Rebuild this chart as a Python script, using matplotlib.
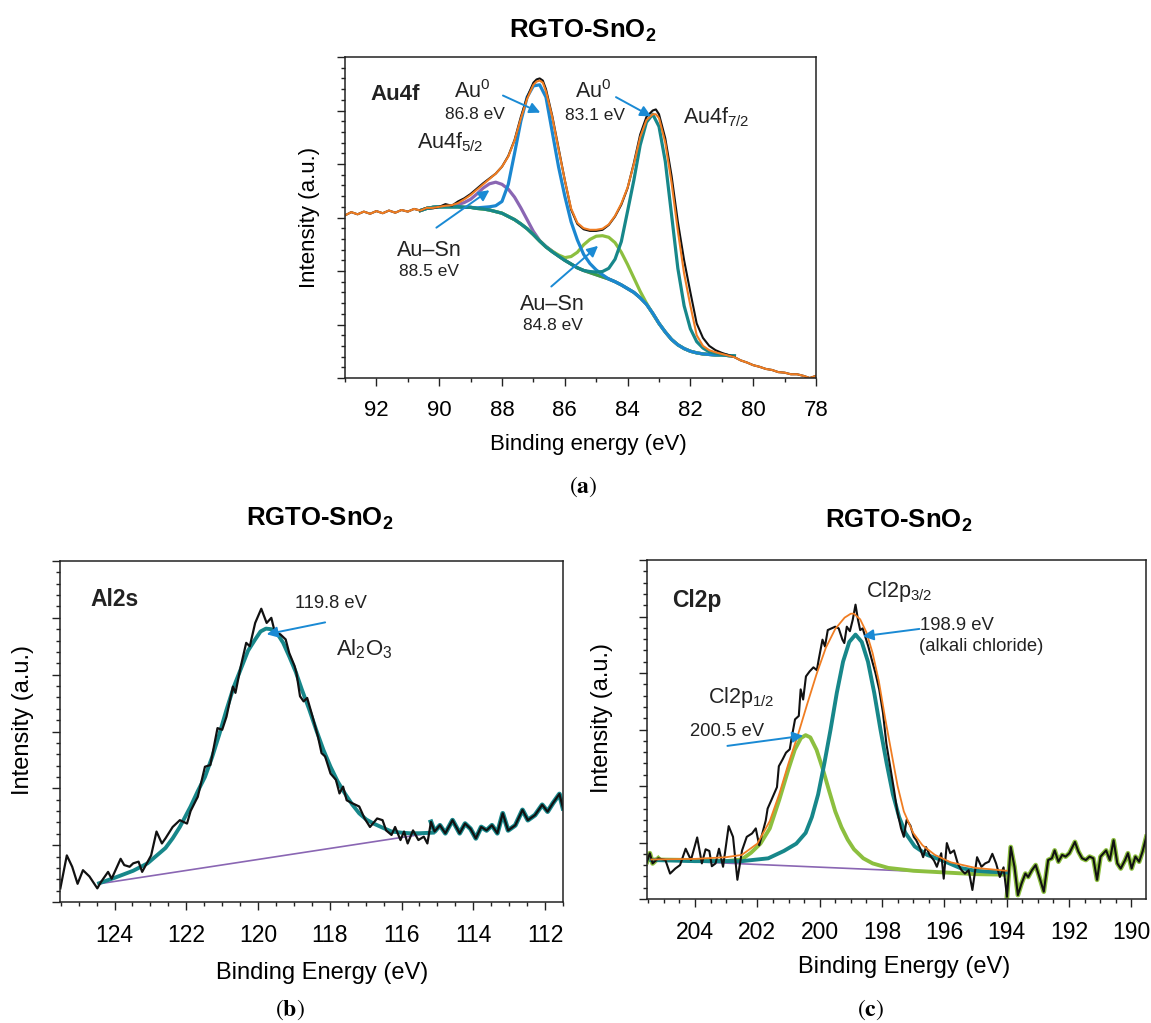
import matplotlib
matplotlib.use("Agg")
import matplotlib.pyplot as plt
from matplotlib.ticker import MultipleLocator
import numpy as np

plt.rcParams['font.family'] = ['Liberation Sans', 'DejaVu Sans']
plt.rcParams['mathtext.fontset'] = 'custom'
plt.rcParams['mathtext.rm'] = 'Liberation Sans'
plt.rcParams['mathtext.it'] = 'Liberation Sans:italic'
plt.rcParams['mathtext.bf'] = 'Liberation Sans:bold'

# ---------------- Panel (a) : Au4f ----------------
a_x = [93.0, 92.8, 92.6, 92.4, 92.2, 92.0, 91.8, 91.6, 91.4, 91.2, 91.0, 90.8, 90.6, 90.4,
       90.2, 90.0, 89.8, 89.6, 89.4, 89.2, 89.0, 88.8, 88.6, 88.4, 88.2, 88.0, 87.8, 87.6,
       87.4, 87.2, 87.0, 86.9, 86.8, 86.7, 86.6, 86.4, 86.2, 86.0, 85.8, 85.6, 85.4, 85.2,
       85.0, 84.8, 84.6, 84.4, 84.2, 84.0, 83.8, 83.6, 83.4, 83.2, 83.1, 83.0, 82.8, 82.6,
       82.4, 82.2, 82.0, 81.8, 81.6, 81.4, 81.2, 81.0, 80.8, 80.6, 80.4, 80.2, 80.0, 79.8,
       79.6, 79.4, 79.2, 79.0, 78.8, 78.6, 78.4, 78.2, 78.0]
a_raw = [3.04, 3.10, 3.06, 3.11, 3.07, 3.12, 3.08, 3.13, 3.09, 3.14, 3.11, 3.16, 3.13, 3.18,
         3.17, 3.20, 3.25, 3.22, 3.30, 3.36, 3.44, 3.54, 3.64, 3.73, 3.82, 3.95, 4.15, 4.45,
         4.88, 5.25, 5.52, 5.58, 5.60, 5.56, 5.40, 4.90, 4.30, 3.70, 3.15, 2.88, 2.78, 2.75,
         2.75, 2.77, 2.86, 3.02, 3.24, 3.55, 4.02, 4.55, 4.88, 5.00, 5.02, 4.93, 4.48, 3.78,
         2.92, 2.20, 1.60, 1.02, 0.75, 0.60, 0.52, 0.47, 0.43, 0.39, 0.33, 0.29, 0.24, 0.21,
         0.17, 0.15, 0.11, 0.10, 0.07, 0.07, 0.04, 0.00, 0.04]
a_env = [3.04, 3.10, 3.06, 3.11, 3.07, 3.12, 3.08, 3.13, 3.09, 3.14, 3.11, 3.16, 3.13, 3.18,
         3.18, 3.20, 3.22, 3.23, 3.27, 3.34, 3.42, 3.52, 3.62, 3.72, 3.82, 3.95, 4.14, 4.44,
         4.85, 5.22, 5.48, 5.54, 5.56, 5.52, 5.36, 4.88, 4.28, 3.70, 3.17, 2.90, 2.80, 2.77,
         2.77, 2.79, 2.87, 3.03, 3.26, 3.56, 4.00, 4.50, 4.82, 4.93, 4.93, 4.86, 4.40, 3.65,
         2.75, 1.95, 1.35, 0.80, 0.60, 0.52, 0.48, 0.45, 0.42, 0.39, 0.33, 0.29, 0.24, 0.21,
         0.17, 0.15, 0.11, 0.10, 0.07, 0.07, 0.04, 0.00, 0.04]

a_cx = [90.6, 90.4, 90.2, 90.0, 89.8, 89.6, 89.4, 89.2, 89.0, 88.8, 88.6, 88.4, 88.2, 88.0,
        87.8, 87.6, 87.4, 87.2, 87.0, 86.8, 86.6, 86.4, 86.2, 86.0, 85.8, 85.6, 85.4, 85.2,
        85.0, 84.8, 84.6, 84.4, 84.2, 84.0, 83.8, 83.6, 83.4, 83.2, 83.0, 82.8, 82.6, 82.4,
        82.2, 82.0, 81.8, 81.6, 81.4, 81.2, 81.0, 80.8, 80.6]
a_bg = [3.13, 3.17, 3.19, 3.20, 3.20, 3.20, 3.20, 3.19, 3.19, 3.17, 3.16, 3.14, 3.11, 3.08,
        3.02, 2.96, 2.88, 2.79, 2.68, 2.56, 2.45, 2.36, 2.28, 2.20, 2.13, 2.06, 2.01, 1.97,
        1.93, 1.89, 1.85, 1.80, 1.74, 1.67, 1.60, 1.50, 1.38, 1.21, 1.02, 0.86, 0.72, 0.62,
        0.55, 0.50, 0.47, 0.45, 0.44, 0.43, 0.43, 0.42, 0.41]
a_ausn1 = [3.13, 3.17, 3.19, 3.20, 3.21, 3.22, 3.24, 3.28, 3.34, 3.44, 3.55, 3.63, 3.66, 3.62,
           3.53, 3.38, 3.18, 2.96, 2.74, 2.57, 2.46, 2.37, 2.28, 2.20, 2.13, 2.06, 2.01, 1.97,
           1.93, 1.89, 1.85, 1.80, 1.74, 1.67, 1.60, 1.50, 1.38, 1.21, 1.02, 0.86, 0.72, 0.62,
           0.55, 0.50, 0.47, 0.45, 0.44, 0.43, 0.43, 0.42, 0.41]
a_au1 = [3.13, 3.17, 3.19, 3.20, 3.20, 3.20, 3.20, 3.19, 3.19, 3.18, 3.19, 3.20, 3.22, 3.30,
         3.62, 4.20, 4.80, 5.25, 5.46, 5.48, 5.25, 4.60, 3.95, 3.40, 2.92, 2.58, 2.31, 2.14,
         2.02, 1.93, 1.85, 1.80, 1.74, 1.67, 1.60, 1.50, 1.38, 1.21, 1.02, 0.86, 0.72, 0.62,
         0.55, 0.50, 0.47, 0.45, 0.44, 0.43, 0.43, 0.42, 0.41]
a_ausn2 = [3.13, 3.17, 3.19, 3.20, 3.20, 3.20, 3.20, 3.19, 3.19, 3.17, 3.16, 3.14, 3.11, 3.08,
           3.02, 2.96, 2.88, 2.79, 2.68, 2.56, 2.45, 2.37, 2.30, 2.25, 2.27, 2.35, 2.49, 2.59,
           2.65, 2.66, 2.63, 2.53, 2.35, 2.12, 1.87, 1.62, 1.40, 1.20, 1.02, 0.86, 0.72, 0.62,
           0.55, 0.50, 0.47, 0.45, 0.44, 0.43, 0.43, 0.42, 0.41]
a_au2 = [3.13, 3.17, 3.19, 3.20, 3.20, 3.20, 3.20, 3.19, 3.19, 3.17, 3.16, 3.14, 3.11, 3.08,
         3.02, 2.96, 2.88, 2.79, 2.68, 2.56, 2.45, 2.36, 2.28, 2.20, 2.13, 2.06, 2.01, 1.99,
         1.98, 1.99, 2.05, 2.22, 2.55, 3.12, 3.70, 4.35, 4.78, 4.93, 4.70, 4.05, 3.05, 2.05,
         1.35, 0.92, 0.68, 0.56, 0.49, 0.46, 0.44, 0.42, 0.41]
a_xticks = [92, 90, 88, 86, 84, 82, 80, 78]

# ---------------- Panel (b) : Al2s ----------------
b_x = [125.51, 125.33, 125.18, 125.03, 124.88, 124.70, 124.48, 124.38, 124.28, 124.18, 124.08,
       123.83, 123.73, 123.58, 123.48, 123.33, 123.23, 122.98, 122.83, 122.68, 122.58, 122.38,
       122.18, 121.98, 121.88, 121.73, 121.68, 121.48, 121.33, 121.13, 121.00, 120.88, 120.70,
       120.63, 120.48, 120.33, 120.23, 120.08, 119.91, 119.76, 119.63, 119.53, 119.38, 119.23,
       119.13, 118.98, 118.93, 118.83, 118.73, 118.63, 118.48, 118.33, 118.23, 118.13, 117.98,
       117.83, 117.73, 117.63, 117.53, 117.38, 117.18, 117.03, 116.88, 116.68, 116.53, 116.43,
       116.28, 116.18, 116.03, 115.93, 115.83, 115.68, 115.53, 115.38, 115.28, 115.18, 115.08,
       114.93, 114.78, 114.58, 114.38, 114.23, 114.08, 113.93, 113.78, 113.63, 113.48, 113.33,
       113.18, 113.03, 112.83, 112.63, 112.48, 112.28, 112.08, 111.93, 111.78, 111.60, 111.50]
b_raw = [0.24, 0.82, 0.62, 0.32, 0.56, 0.45, 0.24, 0.35, 0.44, 0.53, 0.41,
         0.76, 0.65, 0.62, 0.68, 0.71, 0.53, 0.82, 1.24, 1.03, 1.12, 1.32,
         1.44, 1.38, 1.60, 1.79, 1.85, 2.38, 2.41, 3.06, 3.03, 3.26, 3.79,
         3.68, 4.15, 4.56, 4.50, 4.91, 5.16, 4.91, 5.00, 4.74, 4.71, 4.62,
         4.38, 4.15, 4.03, 3.62, 3.53, 3.59, 3.26, 2.91, 2.62, 2.56, 2.26,
         2.15, 1.91, 2.03, 1.79, 1.74, 1.68, 1.47, 1.32, 1.47, 1.44, 1.26,
         1.18, 1.32, 1.09, 1.24, 1.03, 1.26, 1.09, 1.15, 1.03, 1.41, 1.24,
         1.35, 1.21, 1.44, 1.21, 1.38, 1.29, 1.12, 1.32, 1.26, 1.35, 1.21,
         1.56, 1.26, 1.35, 1.62, 1.44, 1.53, 1.71, 1.59, 1.74, 1.90, 1.65]
b_fit_x = [124.43, 123.98, 123.48, 123.08, 122.58, 122.38, 122.18, 121.88, 121.68, 121.48,
           121.28, 121.08, 120.88, 120.68, 120.48, 120.28, 120.08, 119.93, 119.78, 119.63,
           119.48, 119.30, 119.13, 118.95, 118.78, 118.58, 118.38, 118.18, 117.98, 117.78,
           117.58, 117.38, 117.18, 116.98, 116.78, 116.50, 116.28, 116.00, 115.78, 115.50,
           115.13]
b_fit = [0.33, 0.43, 0.55, 0.68, 0.95, 1.12, 1.32, 1.68, 1.95, 2.20,
         2.55, 2.95, 3.38, 3.78, 4.10, 4.42, 4.62, 4.76, 4.81, 4.80,
         4.74, 4.56, 4.32, 4.05, 3.74, 3.40, 3.03, 2.68, 2.38, 2.12,
         1.91, 1.72, 1.56, 1.45, 1.38, 1.30, 1.24, 1.22, 1.21, 1.21,
         1.22]
b_base_x = [124.43, 115.13]
b_base = [0.32, 1.22]
b_xticks = [124, 122, 120, 118, 116, 114, 112]

# ---------------- Panel (c) : Cl2p ----------------
c_x = [205.54, 205.45, 205.36, 205.18, 204.95, 204.80, 204.63, 204.48, 204.30, 204.13, 203.93,
       203.78, 203.66, 203.54, 203.46, 203.34, 203.23, 203.10, 202.92, 202.78, 202.64, 202.49,
       202.34, 202.17, 202.05, 201.94, 201.84, 201.73, 201.67, 201.55, 201.37, 201.31, 201.19,
       201.08, 200.96, 200.90, 200.79, 200.67, 200.61, 200.53, 200.44, 200.32, 200.20, 200.09,
       200.03, 199.91, 199.83, 199.74, 199.62, 199.50, 199.39, 199.27, 199.21, 199.13, 199.03,
       198.94, 198.85, 198.77, 198.70, 198.62, 198.44, 198.33, 198.21, 198.09, 197.97, 197.86,
       197.74, 197.62, 197.51, 197.39, 197.30, 197.21, 197.09, 196.98, 196.90, 196.78, 196.68,
       196.59, 196.47, 196.33, 196.24, 196.10, 196.02, 195.92, 195.81, 195.69, 195.57, 195.45,
       195.34, 195.22, 195.10, 194.95, 194.81, 194.69, 194.57, 194.46, 194.34, 194.22, 194.10,
       193.99, 193.87, 193.75, 193.64, 193.52, 193.40, 193.31, 193.19, 193.07, 192.95, 192.81,
       192.67, 192.55, 192.46, 192.34, 192.22, 192.11, 191.99, 191.81, 191.70, 191.58, 191.46,
       191.34, 191.22, 191.10, 190.99, 190.81, 190.69, 190.57, 190.45, 190.34, 190.20, 190.11,
       189.99, 189.87, 189.75, 189.64, 189.52]
c_raw = [0.66, 0.81, 0.63, 0.72, 0.69, 0.45, 0.54, 0.60, 0.89, 0.69, 1.09,
         0.63, 0.88, 0.85, 0.58, 0.63, 0.89, 0.57, 1.29, 1.10, 0.34, 0.86,
         1.10, 1.16, 1.25, 0.95, 1.16, 1.39, 1.60, 1.75, 1.98, 2.35, 2.47,
         2.59, 2.65, 2.85, 3.18, 3.24, 3.71, 3.53, 3.94, 4.03, 4.10, 4.05,
         4.24, 4.59, 4.47, 4.76, 4.79, 4.82, 4.79, 4.59, 4.53, 4.82, 4.74,
         4.94, 5.21, 4.94, 4.76, 4.79, 4.47, 4.24, 4.00, 3.71, 3.30, 2.75,
         2.35, 1.95, 1.55, 1.25, 1.10, 1.40, 1.30, 1.10, 1.04, 0.90, 0.74,
         0.92, 0.78, 0.68, 0.57, 0.81, 0.36, 0.99, 0.81, 0.86, 0.63, 0.51,
         0.45, 0.51, 0.16, 0.74, 0.57, 0.63, 0.66, 0.80, 0.63, 0.39, 0.56,
         0.04, 0.92, 0.57, 0.07, 0.28, 0.45, 0.39, 0.51, 0.60, 0.39, 0.13,
         0.69, 0.72, 0.86, 0.66, 0.78, 0.75, 0.81, 1.01, 0.84, 0.72, 0.69,
         0.75, 0.72, 0.34, 0.75, 0.86, 0.69, 1.04, 0.63, 0.54, 0.69, 0.81,
         0.54, 0.75, 0.66, 0.84, 1.10]
c_p32_x = [205.4, 204.0, 202.5, 201.65, 201.15, 200.75, 200.45, 200.25, 200.05, 199.85, 199.65,
           199.45, 199.25, 199.05, 198.85, 198.65, 198.45, 198.25, 198.05, 197.85, 197.65, 197.45,
           197.25, 196.95, 196.55, 196.05, 195.5, 195.0, 194.5, 194.0]
c_p32 = [0.69, 0.67, 0.67, 0.72, 0.85, 0.98, 1.17, 1.45, 1.85, 2.40, 3.00,
         3.65, 4.20, 4.55, 4.68, 4.55, 4.20, 3.65, 3.00, 2.40, 1.85, 1.45,
         1.17, 0.93, 0.78, 0.68, 0.55, 0.50, 0.48, 0.47]
c_p12_x = [205.4, 204.0, 203.0, 202.5, 202.2, 201.9, 201.6, 201.3, 201.0, 200.8, 200.6,
           200.45, 200.3, 200.1, 199.9, 199.7, 199.5, 199.3, 199.1, 198.9, 198.6, 198.3,
           197.8, 197.0, 196.0, 195.0, 194.0]
c_p12 = [0.70, 0.69, 0.67, 0.70, 0.82, 0.98, 1.25, 1.75, 2.30, 2.64, 2.85,
         2.90, 2.86, 2.64, 2.30, 1.92, 1.55, 1.27, 1.05, 0.88, 0.72, 0.63,
         0.55, 0.50, 0.47, 0.44, 0.43]
c_env_x = [205.4, 204.0, 203.0, 202.5, 202.0, 201.6, 201.3, 201.0, 200.7, 200.4, 200.1,
           199.8, 199.5, 199.2, 199.0, 198.9, 198.7, 198.5, 198.3, 198.1, 197.9, 197.7,
           197.5, 197.3, 197.0, 196.7, 196.3, 195.8, 195.0, 194.0]
c_env = [0.70, 0.71, 0.74, 0.78, 0.98, 1.38, 1.85, 2.40, 2.90, 3.45, 3.98,
         4.45, 4.78, 4.98, 5.05, 5.05, 4.95, 4.72, 4.35, 3.85, 3.20, 2.60,
         2.00, 1.55, 1.17, 0.95, 0.78, 0.65, 0.55, 0.50]
c_base_x = [205.3, 194.0]
c_base = [0.69, 0.42]
c_xticks = [204, 202, 200, 198, 196, 194, 192, 190]

# ---------------- colours ----------------
BLACK = '#111111'
ORANGE = '#f07d22'
BLUE = '#1b87d0'
TEAL = '#17878a'
PURPLE = '#8a66b3'
GREEN = '#3f9e45'
LGREEN = '#8cbf3f'
ARROW = '#1a8ad4'
TXT = '#222222'

W, H = 1151, 1023
fig = plt.figure(figsize=(W / 100, H / 100), dpi=100)


def box(l, t, r, b):
    return [l / W, 1 - b / H, (r - l) / W, (b - t) / H]


def style(ax, xlim, ticks, minor, fs):
    ax.set_xlim(*xlim)
    ax.set_ylim(0, 6)
    ax.set_xticks(ticks)
    ax.set_xticklabels([str(t) for t in ticks])
    ax.xaxis.set_minor_locator(MultipleLocator(minor))
    ax.yaxis.set_major_locator(MultipleLocator(1))
    ax.yaxis.set_minor_locator(MultipleLocator(0.2))
    ax.tick_params(which='both', direction='out', top=False, right=False,
                   labelleft=False, width=1.0, color='#222222')
    ax.tick_params(which='major', length=5.5, labelsize=fs, pad=10)
    ax.tick_params(which='minor', length=3)
    for s in ax.spines.values():
        s.set_linewidth(1.1)
        s.set_color('#222222')


def arrow(ax, tip, tail):
    ax.annotate('', xy=tip, xytext=tail,
                arrowprops=dict(arrowstyle='-|>', color=ARROW, lw=1.4,
                                mutation_scale=16, shrinkA=0, shrinkB=0))


LAB = 15.5   # main annotation size
SML = 12.5   # energy annotation size

# ---- panel a ----
axa = fig.add_axes(box(345, 57, 816, 378))
style(axa, (93, 78), a_xticks, 1, 16)
axa.plot(a_cx, a_ausn1, color=PURPLE, lw=2.3)
axa.plot(a_cx, a_bg, color=GREEN, lw=2.3)
axa.plot(a_cx, a_ausn2, color=LGREEN, lw=2.3)
axa.plot(a_cx, a_au1, color=BLUE, lw=2.3)
axa.plot(a_cx, a_au2, color=TEAL, lw=2.3)
axa.plot(a_x, a_raw, color=BLACK, lw=1.5)
axa.plot(a_x, a_env, color=ORANGE, lw=1.5)
axa.set_xlabel('Binding energy (eV)', fontsize=16)
axa.xaxis.set_label_coords(0.516, -0.175)
axa.xaxis.label.set_va('top')
axa.set_ylabel('Intensity (a.u.)', fontsize=16)
axa.yaxis.set_label_coords(-0.053, 0.5)

axa.text(92.2, 5.30, 'Au4f', fontsize=16, fontweight='bold', ha='left', va='center', color=TXT)
axa.text(88.94, 5.35, r'Au$^0$', fontsize=LAB, ha='center', va='center', color=TXT)
axa.text(88.86, 4.92, '86.8 eV', fontsize=SML, ha='center', va='center', color=TXT)
axa.text(85.1, 5.35, r'Au$^0$', fontsize=LAB, ha='center', va='center', color=TXT)
axa.text(85.03, 4.90, '83.1 eV', fontsize=SML, ha='center', va='center', color=TXT)
axa.text(82.22, 4.88, r'Au4f$_{7/2}$', fontsize=LAB, ha='left', va='center', color=TXT)
axa.text(90.7, 4.40, r'Au4f$_{5/2}$', fontsize=LAB, ha='left', va='center', color=TXT)
axa.text(90.33, 2.38, 'Au–Sn', fontsize=LAB, ha='center', va='center', color=TXT)
axa.text(90.33, 2.0, '88.5 eV', fontsize=SML, ha='center', va='center', color=TXT)
axa.text(86.4, 1.375, 'Au–Sn', fontsize=LAB, ha='center', va='center', color=TXT)
axa.text(86.38, 0.98, '84.8 eV', fontsize=SML, ha='center', va='center', color=TXT)
arrow(axa, (86.78, 4.96), (87.97, 5.28))
arrow(axa, (83.25, 4.89), (84.37, 5.25))
arrow(axa, (88.4, 3.51), (90.09, 2.81))
arrow(axa, (84.94, 2.47), (86.43, 1.71))

# ---- panel b ----
axb = fig.add_axes(box(60, 561, 563, 902))
style(axb, (125.52, 111.5), b_xticks, 0.5, 16.5)
bx = np.array(b_x)
by = np.array(b_raw)
m = bx <= 115.2
axb.plot(bx[m], by[m], color=TEAL, lw=3.4)
axb.plot(b_base_x, b_base, color=PURPLE, lw=1.2)
axb.plot(b_fit_x, b_fit, color=TEAL, lw=2.8)
axb.plot(bx, by, color=BLACK, lw=1.6)
axb.set_xlabel('Binding Energy (eV)', fontsize=17)
axb.xaxis.set_label_coords(0.521, -0.176)
axb.xaxis.label.set_va('top')
axb.set_ylabel('Intensity (a.u.)', fontsize=17)
axb.yaxis.set_label_coords(-0.052, 0.534)
axb.text(124.66, 5.32, 'Al2s', fontsize=16.5, fontweight='bold', ha='left', va='center', color=TXT)
axb.text(117.96, 5.26, '119.8 eV', fontsize=13.2, ha='center', va='center', color=TXT)
axb.text(117.83, 4.44, r'Al$_2$O$_3$', fontsize=16, ha='left', va='center', color=TXT)
arrow(axb, (119.76, 4.71), (118.13, 4.92))

# ---- panel c ----
axc = fig.add_axes(box(647, 560, 1146, 899))
style(axc, (205.54, 189.53), c_xticks, 0.5, 16.5)
cx = np.array(c_x)
cy = np.array(c_raw)
m1 = cx <= 194.05
m2 = cx >= 205.1
axc.plot(cx[m1], cy[m1], color=LGREEN, lw=3.4)
axc.plot(cx[m2], cy[m2], color=LGREEN, lw=3.4)
axc.plot(c_base_x, c_base, color=PURPLE, lw=1.2)
axc.plot(c_p12_x, c_p12, color=LGREEN, lw=2.8)
axc.plot(c_p32_x, c_p32, color=TEAL, lw=2.8)
axc.plot(cx, cy, color=BLACK, lw=1.5)
axc.plot(c_env_x, c_env, color=ORANGE, lw=1.3)
axc.set_xlabel('Binding Energy (eV)', fontsize=17)
axc.xaxis.set_label_coords(0.515, -0.168)
axc.xaxis.label.set_va('top')
axc.set_ylabel('Intensity (a.u.)', fontsize=17)
axc.yaxis.set_label_coords(-0.068, 0.534)
axc.text(204.72, 5.29, 'Cl2p', fontsize=16.5, fontweight='bold', ha='left', va='center', color=TXT)
axc.text(198.5, 5.44, r'Cl2p$_{3/2}$', fontsize=15.5, ha='left', va='center', color=TXT)
axc.text(196.78, 4.84, '198.9 eV', fontsize=13.3, ha='left', va='center', color=TXT)
axc.text(196.8, 4.47, '(alkali chloride)', fontsize=13.3, ha='left', va='center', color=TXT)
axc.text(203.58, 3.56, r'Cl2p$_{1/2}$', fontsize=15.5, ha='left', va='center', color=TXT)
axc.text(204.15, 2.97, '200.5 eV', fontsize=13.3, ha='left', va='center', color=TXT)
arrow(axc, (198.62, 4.65), (196.8, 4.78))
arrow(axc, (200.53, 2.89), (202.96, 2.71))

# ---- titles and panel letters ----
title = r'RGTO-SnO$_\mathbf{2}$'
fig.text(583 / W, 1 - 31 / H, title, fontsize=18.5, fontweight='bold', ha='center', va='center')
fig.text(320 / W, 1 - 519 / H, title, fontsize=18.5, fontweight='bold', ha='center', va='center')
fig.text(899 / W, 1 - 521 / H, title, fontsize=18.5, fontweight='bold', ha='center', va='center')
fig.text(583 / W, 1 - 487 / H, r'$(\mathbf{a})$', math_fontfamily='stix', fontsize=17, ha='center', va='center')
fig.text(290 / W, 1 - 1010 / H, r'$(\mathbf{b})$', math_fontfamily='stix', fontsize=17, ha='center', va='center')
fig.text(871 / W, 1 - 1010 / H, r'$(\mathbf{c})$', math_fontfamily='stix', fontsize=17, ha='center', va='center')

fig.savefig('out.png', dpi=100)
